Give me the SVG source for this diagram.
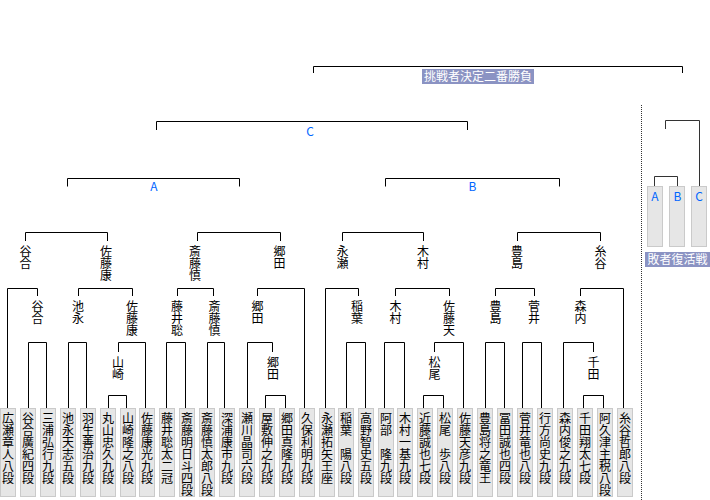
<svg xmlns="http://www.w3.org/2000/svg" width="710" height="500" viewBox="0 0 710 500">
<style>
.bg{fill:#ffffff}
.box{fill:#e6e6e6;stroke:#cacaca;stroke-width:1}
.v{font-family:"Noto Sans CJK JP","Noto Sans CJK SC",sans-serif;font-size:12px;fill:#000;writing-mode:vertical-rl;text-orientation:upright}
.m{font-family:"Noto Sans CJK JP",sans-serif;font-size:12px;fill:#0066ff;text-anchor:middle}
.t{font-family:"Noto Sans CJK JP",sans-serif;font-size:12px;fill:#ffffff;text-anchor:middle}
.tb{fill:#8b93c3}
.c{fill:none;stroke:#000;stroke-width:1}
.c2{fill:none;stroke:#333;stroke-width:1}
.dot{fill:none;stroke:#333;stroke-width:1;stroke-dasharray:1 1}
</style>
<rect class="bg" x="0" y="0" width="710" height="500"/>
<g id="connectors">
<path class="c" d="M108.5 408V395.5H126.5V408M265.5 408V395.5H285.5V408M423.5 408V395.5H443.5V408M583.5 408V395.5H603.5V408"/>
<path class="c" d="M28.5 408V342.5H46.5V408M68.5 408V342.5H86.5V408M118.5 352V342.5H145.5V408M166.5 408V342.5H185.5V408M207.5 408V342.5H224.5V408M247.5 408V342.5H272.5V352M346.5 408V342.5H365.5V408M384.5 408V342.5H404.5V408M434.5 352V342.5H463.5V408M485.5 408V342.5H504.5V408M522.5 408V342.5H541.5V408M563.5 408V342.5H593.5V352"/>
<path class="c" d="M7.5 408V288.5H37.5V296M78.5 296V288.5H132.5V296M177.5 296V288.5H213.5V296M257.5 296V288.5H304.5V408M325.5 408V288.5H358.5V296M395.5 296V288.5H449.5V296M495.5 296V288.5H534.5V296M580.5 296V288.5H623.5V408"/>
<path class="c" d="M25.5 241V232.5H107.5V241M197.5 241V232.5H280.5V241M342.5 241V232.5H423.5V241M517.5 241V232.5H600.5V241"/>
<path class="c" d="M67.5 186.5V178.5H239.5V186.5M385.5 186.5V178.5H559.5V186.5M156.5 130V121.5H467.5V130M313.5 73V66.5H682.5V73"/>
<path class="c2" d="M654.5 186.5V176.5H677.5V186.5M665.5 129V120.5H699.5V186.5"/>
<path class="dot" d="M641.5 105V500"/>
</g>
<g id="title-final"><rect class="tb" x="422" y="69" width="112" height="15"/><text class="t" x="478" y="81">挑戦者決定二番勝負</text></g>
<g id="title-repechage"><rect class="tb" x="645" y="252" width="65" height="15"/><text class="t" x="677.5" y="264">敗者復活戦</text></g>
<g id="match-C"><text class="m" x="310" y="136">C</text></g>
<g id="match-A"><text class="m" x="154" y="191">A</text></g>
<g id="match-B"><text class="m" x="472.5" y="191">B</text></g>
<g id="rep-A"><rect class="box" x="647.5" y="186.5" width="15" height="60"/><text class="m" x="655" y="201">A</text></g>
<g id="rep-B"><rect class="box" x="669.5" y="186.5" width="15" height="60"/><text class="m" x="677.5" y="201">B</text></g>
<g id="rep-C"><rect class="box" x="691.5" y="186.5" width="15" height="60"/><text class="m" x="699" y="201">C</text></g>
<g id="w3-1"><text class="v" x="25.5" y="245">谷合</text></g>
<g id="w3-2"><text class="v" x="106" y="245">佐藤康</text></g>
<g id="w3-3"><text class="v" x="195" y="245">斎藤慎</text></g>
<g id="w3-4"><text class="v" x="279.5" y="245">郷田</text></g>
<g id="w3-5"><text class="v" x="342.5" y="245">永瀬</text></g>
<g id="w3-6"><text class="v" x="423" y="245">木村</text></g>
<g id="w3-7"><text class="v" x="517" y="245">豊島</text></g>
<g id="w3-8"><text class="v" x="600.5" y="245">糸谷</text></g>
<g id="w2-1"><text class="v" x="37.5" y="300">谷合</text></g>
<g id="w2-2"><text class="v" x="78" y="300">池永</text></g>
<g id="w2-3"><text class="v" x="132" y="300">佐藤康</text></g>
<g id="w2-4"><text class="v" x="177" y="300">藤井聡</text></g>
<g id="w2-5"><text class="v" x="214.5" y="300">斎藤慎</text></g>
<g id="w2-6"><text class="v" x="257.5" y="300">郷田</text></g>
<g id="w2-7"><text class="v" x="357" y="300">稲葉</text></g>
<g id="w2-8"><text class="v" x="395.5" y="300">木村</text></g>
<g id="w2-9"><text class="v" x="449" y="300">佐藤天</text></g>
<g id="w2-10"><text class="v" x="495.5" y="300">豊島</text></g>
<g id="w2-11"><text class="v" x="534" y="300">菅井</text></g>
<g id="w2-12"><text class="v" x="580.5" y="300">森内</text></g>
<g id="w1-1"><text class="v" x="118" y="356">山崎</text></g>
<g id="w1-2"><text class="v" x="273" y="356">郷田</text></g>
<g id="w1-3"><text class="v" x="434.5" y="356">松尾</text></g>
<g id="w1-4"><text class="v" x="593.5" y="356">千田</text></g>
<g id="p0"><rect class="box" x="0.5" y="408.5" width="15" height="88"/><text class="v" x="8" y="412">広瀬章人八段</text></g>
<g id="p1"><rect class="box" x="20.5" y="408.5" width="15" height="88"/><text class="v" x="28" y="412">谷合廣紀四段</text></g>
<g id="p2"><rect class="box" x="40.5" y="408.5" width="15" height="88"/><text class="v" x="48" y="412">三浦弘行九段</text></g>
<g id="p3"><rect class="box" x="60.5" y="408.5" width="15" height="88"/><text class="v" x="68" y="412">池永天志五段</text></g>
<g id="p4"><rect class="box" x="80.5" y="408.5" width="15" height="88"/><text class="v" x="88" y="412">羽生善治九段</text></g>
<g id="p5"><rect class="box" x="100.5" y="408.5" width="15" height="88"/><text class="v" x="108" y="412">丸山忠久九段</text></g>
<g id="p6"><rect class="box" x="120.5" y="408.5" width="15" height="88"/><text class="v" x="128" y="412">山崎隆之八段</text></g>
<g id="p7"><rect class="box" x="139.5" y="408.5" width="15" height="88"/><text class="v" x="147" y="412">佐藤康光九段</text></g>
<g id="p8"><rect class="box" x="159.5" y="408.5" width="15" height="88"/><text class="v" x="167" y="412">藤井聡太二冠</text></g>
<g id="p9"><rect class="box" x="179.5" y="408.5" width="15" height="88"/><text class="v" x="187" y="412">斎藤明日斗四段</text></g>
<g id="p10"><rect class="box" x="199.5" y="408.5" width="15" height="88"/><text class="v" x="207" y="412">斎藤慎太郎八段</text></g>
<g id="p11"><rect class="box" x="219.5" y="408.5" width="15" height="88"/><text class="v" x="227" y="412">深浦康市九段</text></g>
<g id="p12"><rect class="box" x="239.5" y="408.5" width="15" height="88"/><text class="v" x="247" y="412">瀬川晶司六段</text></g>
<g id="p13"><rect class="box" x="259.5" y="408.5" width="15" height="88"/><text class="v" x="267" y="412">屋敷伸之九段</text></g>
<g id="p14"><rect class="box" x="279.5" y="408.5" width="15" height="88"/><text class="v" x="287" y="412">郷田真隆九段</text></g>
<g id="p15"><rect class="box" x="299.5" y="408.5" width="15" height="88"/><text class="v" x="307" y="412">久保利明九段</text></g>
<g id="p16"><rect class="box" x="319.5" y="408.5" width="15" height="88"/><text class="v" x="327" y="412">永瀬拓矢王座</text></g>
<g id="p17"><rect class="box" x="338.5" y="408.5" width="15" height="88"/><text class="v" x="346" y="412">稲葉　陽八段</text></g>
<g id="p18"><rect class="box" x="358.5" y="408.5" width="15" height="88"/><text class="v" x="366" y="412">高野智史五段</text></g>
<g id="p19"><rect class="box" x="378.5" y="408.5" width="15" height="88"/><text class="v" x="386" y="412">阿部　隆九段</text></g>
<g id="p20"><rect class="box" x="397.5" y="408.5" width="15" height="88"/><text class="v" x="405" y="412">木村一基九段</text></g>
<g id="p21"><rect class="box" x="417.5" y="408.5" width="15" height="88"/><text class="v" x="425" y="412">近藤誠也七段</text></g>
<g id="p22"><rect class="box" x="437.5" y="408.5" width="15" height="88"/><text class="v" x="445" y="412">松尾　歩八段</text></g>
<g id="p23"><rect class="box" x="457.5" y="408.5" width="15" height="88"/><text class="v" x="465" y="412">佐藤天彦九段</text></g>
<g id="p24"><rect class="box" x="477.5" y="408.5" width="15" height="88"/><text class="v" x="485" y="412">豊島将之竜王</text></g>
<g id="p25"><rect class="box" x="497.5" y="408.5" width="15" height="88"/><text class="v" x="505" y="412">冨田誠也四段</text></g>
<g id="p26"><rect class="box" x="517.5" y="408.5" width="15" height="88"/><text class="v" x="525" y="412">菅井竜也八段</text></g>
<g id="p27"><rect class="box" x="537.5" y="408.5" width="15" height="88"/><text class="v" x="545" y="412">行方尚史九段</text></g>
<g id="p28"><rect class="box" x="557.5" y="408.5" width="15" height="88"/><text class="v" x="565" y="412">森内俊之九段</text></g>
<g id="p29"><rect class="box" x="577.5" y="408.5" width="15" height="88"/><text class="v" x="585" y="412">千田翔太七段</text></g>
<g id="p30"><rect class="box" x="597.5" y="408.5" width="15" height="88"/><text class="v" x="605" y="412">阿久津主税八段</text></g>
<g id="p31"><rect class="box" x="617.5" y="408.5" width="15" height="88"/><text class="v" x="625" y="412">糸谷哲郎八段</text></g>
</svg>
